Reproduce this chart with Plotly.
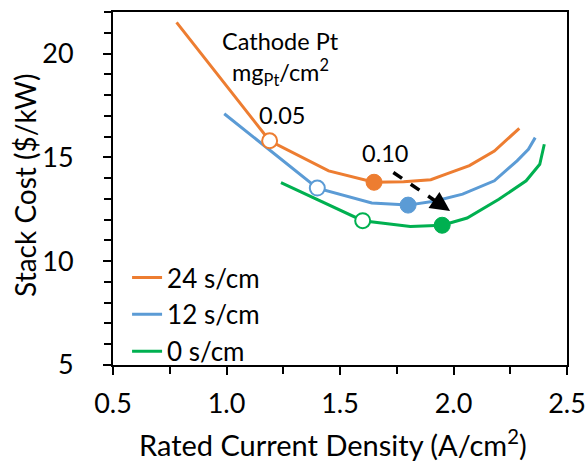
import plotly.graph_objects as go

# ---- data ----
orange_x = [0.78, 1.19, 1.45, 1.65, 1.78, 1.90, 1.97, 2.07, 2.18, 2.29]
orange_y = [21.5, 15.8, 14.35, 13.8, 13.82, 13.92, 14.2, 14.6, 15.3, 16.4]

blue_x = [0.99, 1.40, 1.64, 1.80, 1.92, 2.04, 2.18, 2.28, 2.33, 2.36]
blue_y = [17.1, 13.52, 12.8, 12.70, 12.9, 13.23, 13.87, 14.83, 15.39, 15.95]

green_x = [1.24, 1.60, 1.81, 1.95, 2.06, 2.20, 2.32, 2.38, 2.40]
green_y = [13.78, 11.95, 11.67, 11.73, 12.08, 12.98, 13.87, 14.67, 15.63]

series_names = ["24 s/cm", "12 s/cm", "0 s/cm"]
colors = ["#ED7D31", "#5B9BD5", "#00B050"]

# Cathode Pt loading markers: 0.05 (open) and 0.10 (filled)
open_x = [1.19, 1.40, 1.60]
open_y = [15.8, 13.52, 11.95]
filled_x = [1.65, 1.80, 1.95]
filled_y = [13.8, 12.70, 11.73]

arrow_x = [1.735, 1.985]
arrow_y = [14.27, 12.42]

x_ticks = [0.5, 1.0, 1.5, 2.0, 2.5]
y_ticks = [5, 10, 15, 20]

FONT = "Lato"

fig = go.Figure()
for xs, ys, name, c in zip([orange_x, blue_x, green_x], [orange_y, blue_y, green_y], series_names, colors):
    fig.add_trace(go.Scatter(x=xs, y=ys, mode="lines", name=name,
                             line=dict(color=c, width=3)))

for i, c in enumerate(colors):
    fig.add_trace(go.Scatter(x=[open_x[i]], y=[open_y[i]], mode="markers", showlegend=False,
                             marker=dict(size=15, color="white", line=dict(color=c, width=2))))
    fig.add_trace(go.Scatter(x=[filled_x[i]], y=[filled_y[i]], mode="markers", showlegend=False,
                             marker=dict(size=16, color=c, line=dict(color=c, width=1))))

# dashed arrow shaft
fx = arrow_x[0] + (arrow_x[1] - arrow_x[0]) * 0.82
fy = arrow_y[0] + (arrow_y[1] - arrow_y[0]) * 0.82
fig.add_trace(go.Scatter(x=[arrow_x[0], fx], y=[arrow_y[0], fy], mode="lines", showlegend=False,
                         line=dict(color="black", width=3.5, dash="dash")))
fig.add_annotation(x=arrow_x[1], y=arrow_y[1], ax=fx, ay=fy, xref="x", yref="y", axref="x", ayref="y",
                   showarrow=True, arrowhead=2, arrowsize=1.3, arrowwidth=3, arrowcolor="black", text="")

ann_font = dict(family=FONT, size=23.5, color="black")
fig.add_annotation(x=1.236, y=20.6, text="Cathode Pt", showarrow=False, xref="x", yref="y", font=ann_font)
fig.add_annotation(x=1.237, y=19.1, text="mg<sub>Pt</sub>/cm<sup>2</sup>", showarrow=False, xref="x", yref="y",
                   font=ann_font)
fig.add_annotation(x=1.244, y=17.04, text="0.05", showarrow=False, xref="x", yref="y", font=ann_font)
fig.add_annotation(x=1.70, y=15.19, text="0.10", showarrow=False, xref="x", yref="y", font=ann_font)

# axis titles
fig.add_annotation(x=0.485, y=-0.221, xref="paper", yref="paper", showarrow=False,
                   xanchor="center", yanchor="middle",
                   text="Rated Current Density (A/cm<sup>2</sup>)",
                   font=dict(family=FONT, size=29, color="black"))
fig.add_annotation(x=-0.194, y=0.51, xref="paper", yref="paper", showarrow=False, textangle=-90,
                   xanchor="center", yanchor="middle",
                   text="Stack Cost ($/kW)", font=dict(family=FONT, size=28, color="black"))

axis_common = dict(showline=True, linecolor="black", linewidth=2, mirror=True,
                   ticks="outside", ticklen=8, tickwidth=2, tickcolor="black",
                   showgrid=False, zeroline=False, automargin=False,
                   tickfont=dict(family=FONT, size=27, color="black"))

fig.update_xaxes(range=[0.5, 2.5], tickvals=x_ticks, ticktext=[f"{v:.1f}" for v in x_ticks],
                 minor=dict(dtick=0.25, ticks="outside", ticklen=7, tickwidth=2, tickcolor="black"),
                 ticklabelstandoff=6, **axis_common)
fig.update_yaxes(range=[5, 22], tickvals=y_ticks,
                 minor=dict(dtick=1, ticks="outside", ticklen=7, tickwidth=2, tickcolor="black"),
                 ticklabelstandoff=24, **axis_common)

fig.update_layout(
    width=588, height=461,
    margin=dict(l=113, r=21, t=12, b=96),
    paper_bgcolor="white", plot_bgcolor="white",
    font=dict(family=FONT, color="black"),
    legend=dict(x=0.031, y=0.314, xanchor="left", yanchor="top",
                bgcolor="rgba(0,0,0,0)", font=dict(family=FONT, size=26, color="black"),
                tracegroupgap=0, itemwidth=30),
)

fig.write_html("out.html", config={"displayModeBar": False},
               post_script="document.body.style.margin='0';document.body.style.overflow='hidden';")
